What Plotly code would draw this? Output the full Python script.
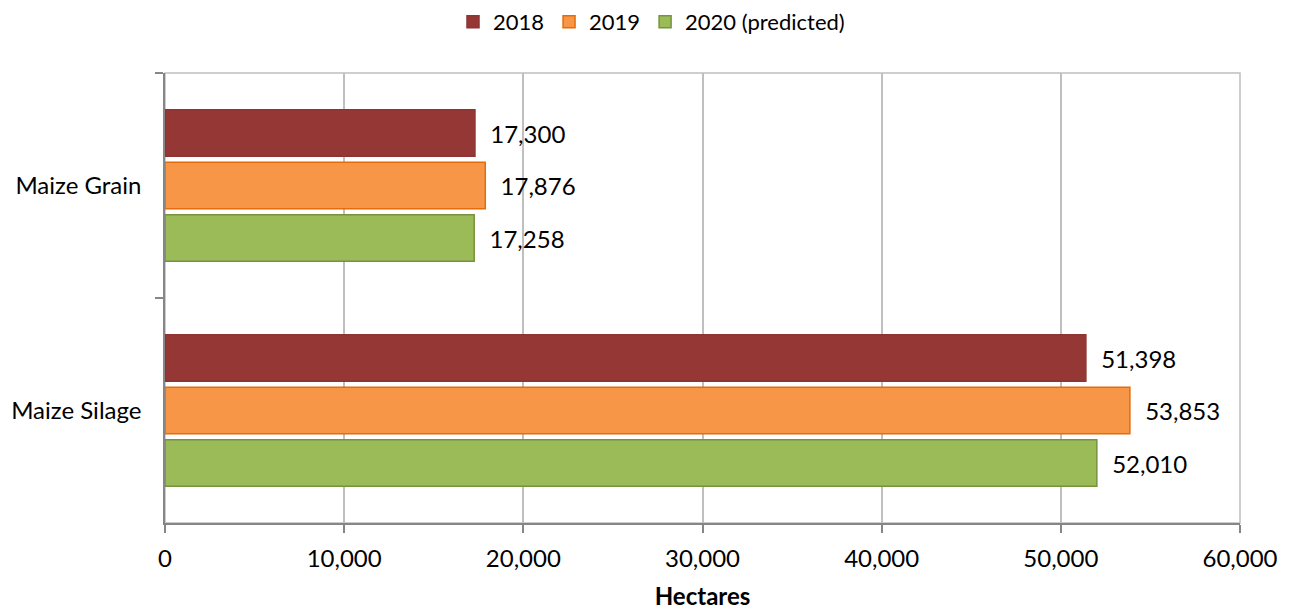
import plotly.graph_objects as go

categories = ["Maize Grain", "Maize Silage"]
series_names = ["2018", "2019", "2020 (predicted)"]
values_2018 = [17300, 51398]
values_2019 = [17876, 53853]
values_2020 = [17258, 52010]
x_ticks = [0, 10000, 20000, 30000, 40000, 50000, 60000]
x_tick_labels = ["0", "10,000", "20,000", "30,000", "40,000", "50,000", "60,000"]

fills = ["#953735", "#F79646", "#9BBB59"]
borders = ["#8E3532", "#E46C0A", "#77933C"]
FONT = "Lato"
FS = 24

fig = go.Figure()
for name, vals, fc, bc in zip(series_names, [values_2018, values_2019, values_2020], fills, borders):
    fig.add_trace(go.Bar(
        y=categories, x=vals, name=name, orientation="h",
        marker=dict(color=fc, line=dict(color=bc, width=1.5)),
        texttemplate="\u00a0\u00a0%{x:,}", textposition="outside",
        textfont=dict(size=FS, color="#000000", family=FONT),
        cliponaxis=False,
    ))

# page body has an 8px margin: compensate so the plot area lands at 165..1240 x 73..523
W, H = 1287, 604
fig.update_layout(
    width=W, height=H,
    paper_bgcolor="white", plot_bgcolor="white",
    margin=dict(l=157, r=55, t=65, b=89, autoexpand=False),
    barmode="group", bargap=0.30, bargroupgap=0.11,
    font=dict(family=FONT, size=FS, color="#000000"),
    legend=dict(orientation="h", xref="container", x=0.5, xanchor="center",
                yref="container", y=1 - 14 / H, yanchor="middle",
                font=dict(size=22, family=FONT), itemwidth=30, traceorder="normal"),
    shapes=[dict(type="rect", xref="paper", yref="paper", x0=0, x1=1, y0=0, y1=1,
                 line=dict(color="#BFBFBF", width=1.5), layer="below")],
)
fig.update_xaxes(
    range=[0, 60000], tickvals=x_ticks, ticktext=x_tick_labels,
    showgrid=True, gridcolor="#BFBFBF", gridwidth=1.5,
    showline=True, linecolor="#868686", linewidth=1.5,
    ticks="outside", ticklen=8, tickcolor="#868686", tickwidth=1.5,
    tickfont=dict(size=FS, family=FONT), zeroline=False, automargin=False,
    ticklabelstandoff=5,
    title=dict(text="<b>Hectares</b>", font=dict(size=FS, family=FONT), standoff=18),
)
fig.update_yaxes(
    categoryorder="array", categoryarray=categories, autorange="reversed",
    showline=True, linecolor="#868686", linewidth=1.5,
    ticks="outside", ticklen=8, tickcolor="#868686", tickwidth=1.5, tickson="boundaries",
    showgrid=False, tickfont=dict(size=FS, family=FONT), ticklabelstandoff=17,
    automargin=False,
)

fig.write_html("out.html")
